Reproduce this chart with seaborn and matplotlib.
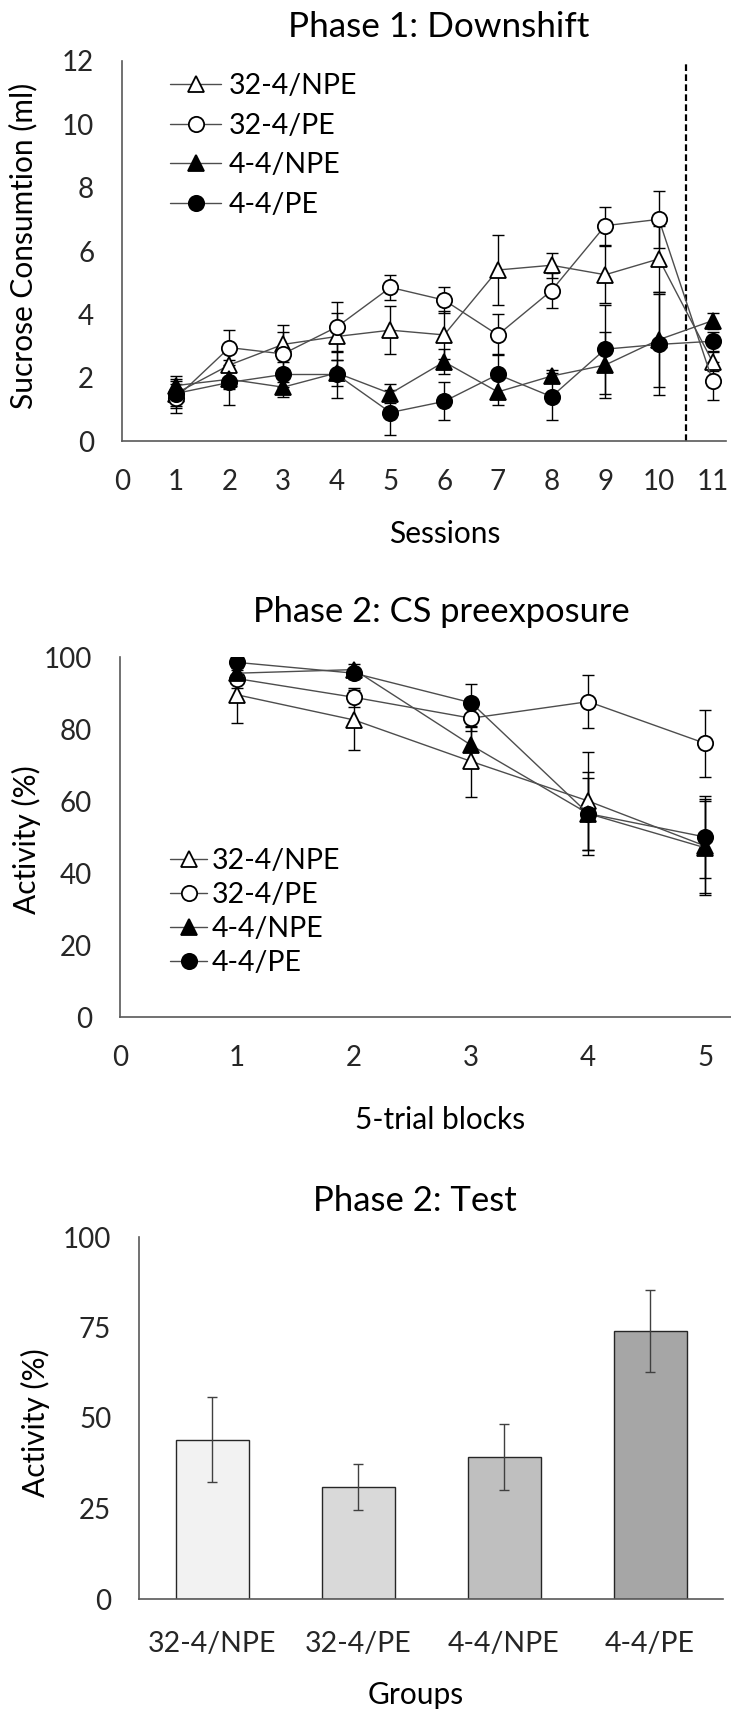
import matplotlib
matplotlib.use('Agg')
import matplotlib.pyplot as plt
import seaborn as sns

# Phase 1: Downshift (sucrose consumption, ml)
sessions = [1, 2, 3, 4, 5, 6, 7, 8, 9, 10, 11]
npe32_p1 = [1.5, 2.4, 3.05, 3.3, 3.5, 3.35, 5.4, 5.55, 5.25, 5.75, 2.5]
npe32_p1_err = [0.45, 0.45, 0.4, 0.75, 0.75, 0.75, 1.1, 0.4, 0.9, 1.05, 0.3]
pe32_p1 = [1.35, 2.95, 2.75, 3.6, 4.85, 4.45, 3.35, 4.75, 6.8, 7.0, 1.9]
pe32_p1_err = [0.45, 0.55, 0.9, 0.8, 0.4, 0.4, 0.65, 0.55, 0.6, 0.9, 0.6]
npe44_p1 = [1.75, 1.95, 1.7, 2.15, 1.5, 2.5, 1.55, 2.05, 2.4, 3.2, 3.8]
npe44_p1_err = [0.3, 0.3, 0.3, 0.4, 0.3, 0.4, 0.4, 0.2, 1.05, 1.5, 0.25]
pe44_p1 = [1.5, 1.85, 2.1, 2.1, 0.9, 1.25, 2.1, 1.4, 2.9, 3.05, 3.15]
pe44_p1_err = [0.4, 0.7, 0.4, 0.75, 0.7, 0.6, 0.65, 0.75, 1.4, 1.6, 0.3]

# Phase 2: CS preexposure (activity, %)
blocks = [1, 2, 3, 4, 5]
npe32_p2 = [89.5, 82.5, 71, 60, 47.5]
npe32_p2_err = [7.8, 8.3, 9.8, 13.5, 13]
pe32_p2 = [94, 88.8, 83, 87.6, 76]
pe32_p2_err = [2.5, 2.7, 3.5, 7.3, 9.3]
npe44_p2 = [95.5, 96.5, 75.5, 56.5, 47]
npe44_p2_err = [1.5, 1.5, 5.0, 11.5, 13]
pe44_p2 = [98.5, 95.5, 87.3, 56.5, 50]
pe44_p2_err = [1.0, 1.5, 5.2, 10, 11.5]

# Phase 2: Test
groups = ['32-4/NPE', '32-4/PE', '4-4/NPE', '4-4/PE']
test_vals = [44, 31, 39.3, 74]
test_err = [11.7, 6.3, 9.1, 11.4]
bar_colors = ['#f2f2f2', '#d9d9d9', '#bfbfbf', '#a6a6a6']

sns.set_style('white')
plt.rcParams['font.family'] = ['Lato', 'DejaVu Sans']
plt.rcParams['text.color'] = 'black'

W, H = 731, 1713
TICK_FS = 20
LABEL_FS = 21.5
LEG_FS = 20.5
AXIS_COL = '#595959'

fig = plt.figure(figsize=(W / 100, H / 100), dpi=100)
renderer = fig.canvas.get_renderer()


def px_box(left, top, right, bottom):
    return [left / W, 1 - bottom / H, (right - left) / W, (bottom - top) / H]


def style_axes(ax):
    sns.despine(ax=ax)
    for s in ['left', 'bottom']:
        ax.spines[s].set_color(AXIS_COL)
        ax.spines[s].set_linewidth(1.2)
    ax.tick_params(direction='in', length=8, width=1, color=AXIS_COL,
                   labelsize=TICK_FS, pad=20)
    ax.set_xlabel('')
    ax.set_ylabel('')


def draw_series(ax, x, y, err, marker, face, label):
    ax.errorbar(x, y, yerr=err, fmt='none', ecolor='black', elinewidth=1,
                capsize=4.3, capthick=1, zorder=2)
    sns.lineplot(x=x, y=y, ax=ax, color='#4d4d4d', linewidth=1,
                 marker=marker, markersize=11, markerfacecolor=face,
                 markeredgecolor='black', markeredgewidth=1.3,
                 label=label, zorder=3)


def title_text(x, y, s, width):
    # scale the font so the title spans the same width as in the original
    t = fig.text(x / W, 1 - y / H, s, ha='center', va='baseline', fontsize=20)
    w = t.get_window_extent(renderer=renderer).width
    t.set_fontsize(20 * width / w)


def label_text(x, y, s, rot=0):
    fig.text(x / W, 1 - y / H, s, ha='center',
             va='center' if rot else 'baseline', fontsize=LABEL_FS, rotation=rot)


series_style = [('^', 'white', '32-4/NPE'), ('o', 'white', '32-4/PE'),
                ('^', 'black', '4-4/NPE'), ('o', 'black', '4-4/PE')]

# ---- panel 1
ax1 = fig.add_axes(px_box(122, 61, 726, 441))
p1 = [(npe32_p1, npe32_p1_err), (pe32_p1, pe32_p1_err),
      (npe44_p1, npe44_p1_err), (pe44_p1, pe44_p1_err)]
for (y, e), (m, f, lab) in zip(p1, series_style):
    draw_series(ax1, sessions, y, e, m, f, lab)
ax1.axvline(10.5, color='black', ls='--', lw=1.6, dashes=(3, 1.5))
ax1.set_xlim(0, 11.25)
ax1.set_ylim(0, 12)
ax1.set_xticks(range(0, 12))
ax1.set_yticks(range(0, 13, 2))
style_axes(ax1)
ax1.legend(loc='upper left', bbox_to_anchor=(170 / W, 1 - 73 / H),
           bbox_transform=fig.transFigure, frameon=False, fontsize=LEG_FS,
           handlelength=1.8, handletextpad=0.25, labelspacing=0.48,
           borderpad=0, borderaxespad=0)
title_text(439, 37, 'Phase 1: Downshift', 302)
label_text(445, 543, 'Sessions')
label_text(23, 246, 'Sucrose Consumtion (ml)', rot=90)

# ---- panel 2
ax2 = fig.add_axes(px_box(120, 657, 731, 1017))
p2 = [(npe32_p2, npe32_p2_err), (pe32_p2, pe32_p2_err),
      (npe44_p2, npe44_p2_err), (pe44_p2, pe44_p2_err)]
for (y, e), (m, f, lab) in zip(p2, series_style):
    draw_series(ax2, blocks, y, e, m, f, lab)
ax2.set_xlim(0, 5.22)
ax2.set_ylim(0, 100)
ax2.set_xticks(range(0, 6))
ax2.set_yticks(range(0, 101, 20))
style_axes(ax2)
ax2.legend(loc='upper left', bbox_to_anchor=(170 / W, 1 - 848 / H),
           bbox_transform=fig.transFigure, frameon=False, fontsize=LEG_FS,
           handlelength=1.3, handletextpad=0.18, labelspacing=0.28,
           borderpad=0, borderaxespad=0)
title_text(441, 622, 'Phase 2: CS preexposure', 378)
label_text(440, 1129, '5-trial blocks')
label_text(26, 840, 'Activity (%)', rot=90)

# ---- panel 3
ax3 = fig.add_axes(px_box(139, 1237, 723, 1599))
sns.barplot(x=groups, y=test_vals, hue=groups, palette=bar_colors,
            legend=False, width=0.5, edgecolor='#262626', linewidth=1,
            ax=ax3)
ax3.errorbar(range(len(groups)), test_vals, yerr=test_err, fmt='none',
             ecolor='#404040', elinewidth=1, capsize=3.6, capthick=1)
ax3.set_xlim(-0.5, 3.5)
ax3.set_ylim(0, 100)
ax3.set_yticks(range(0, 101, 25))
style_axes(ax3)
ax3.tick_params(axis='x', length=0, pad=23, labelsize=LEG_FS)
title_text(415, 1211, 'Phase 2: Test', 204)
label_text(416, 1704, 'Groups')
label_text(35, 1423, 'Activity (%)', rot=90)

fig.savefig('out.png', dpi=100)
